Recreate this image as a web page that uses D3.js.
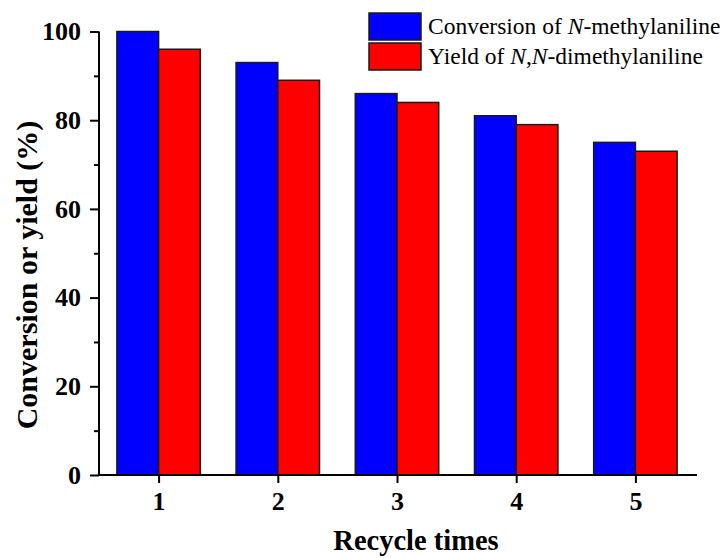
<!DOCTYPE html>
<html>
<head>
<meta charset="utf-8">
<script src="https://cdn.jsdelivr.net/npm/d3@7"></script>
<style>
	body { margin: 0; background: #fff; }
	svg { font-family: "Liberation Serif", "Times New Roman", serif; }
</style>
</head>
<body>
<svg id="chart" width="725" height="558"></svg>
<script>
(function (d3) {
	"use strict";

	/***** Data *****/
	var cycles = [1, 2, 3, 4, 5];
	var conversion = [100, 93, 86, 81, 75];
	var yieldVals = [96, 89, 84, 79, 73];
	var yTicks = [0, 20, 40, 60, 80, 100];
	var yMinorTicks = [10, 30, 50, 70, 90];

	/***** Layout *****/
	var svg = d3.select("#chart");
	var x = d3.scaleLinear().domain([0.5, 5.5]).range([99, 695]);
	var y = d3.scaleLinear().domain([0, 100]).range([475, 31.5]);
	var barW = x(0.35) - x(0);

	var series = [
		{ name: "conversion", values: conversion, color: "#0000ff", offset: -1 },
		{ name: "yield", values: yieldVals, color: "#ff0000", offset: 0 }
	];

	// Bars
	series.forEach(function (s) {
		svg.append("g").selectAll("rect")
			.data(cycles)
			.enter().append("rect")
			.attr("x", function (d) { return x(d) + s.offset * barW; })
			.attr("y", function (d, i) { return y(s.values[i]); })
			.attr("width", barW)
			.attr("height", function (d, i) { return y(0) - y(s.values[i]); })
			.attr("fill", s.color)
			.attr("stroke", "#1a1a1a")
			.attr("stroke-width", 1.5);
	});

	// Y axis
	var yAxis = svg.append("g").attr("transform", "translate(" + x(0.5) + ",0)")
		.call(d3.axisLeft(y).tickValues(yTicks).tickSize(9).tickPadding(9));
	svg.append("g").attr("transform", "translate(" + x(0.5) + ",0)")
		.call(d3.axisLeft(y).tickValues(yMinorTicks).tickSize(5).tickFormat(""))
		.select(".domain").remove();

	// X axis
	var xAxis = svg.append("g").attr("transform", "translate(0," + y(0) + ")")
		.call(d3.axisBottom(x).tickValues(cycles).tickSize(8).tickPadding(9).tickFormat(d3.format("d")));

	svg.selectAll(".domain").attr("stroke", "#000").attr("stroke-width", 2);
	svg.selectAll(".tick line").attr("stroke", "#000").attr("stroke-width", 2);
	svg.selectAll(".tick text")
		.attr("fill", "#000")
		.style("font-family", "Liberation Serif, serif")
		.style("font-weight", "bold")
		.style("font-size", "26px");
	xAxis.select(".domain").attr("d", "M" + x(0.5) + ",0H" + (x(5.5) + 2));
	yAxis.select(".domain").attr("d", "M0," + y(0) + "V" + y(100));

	// Axis titles
	svg.append("text")
		.attr("transform", "translate(37,275) rotate(-90)")
		.attr("text-anchor", "middle")
		.style("font-weight", "bold")
		.style("font-size", "30px")
		.text("Conversion or yield (%)");

	svg.append("text")
		.attr("x", 416)
		.attr("y", 550)
		.attr("text-anchor", "middle")
		.style("font-weight", "bold")
		.style("font-size", "28.5px")
		.text("Recycle times");

	/***** Legend *****/
	var legend = svg.append("g").attr("transform", "translate(369,13)");
	var legendRows = [
		{ color: "#0000ff", parts: [["Conversion of ", false], ["N", true], ["-methylaniline", false]] },
		{ color: "#ff0000", parts: [["Yield of ", false], ["N", true], [",", false], ["N", true], ["-dimethylaniline", false]] }
	];
	legendRows.forEach(function (row, i) {
		var g = legend.append("g").attr("transform", "translate(0," + (i * 30) + ")");
		g.append("rect")
			.attr("width", 52).attr("height", 27)
			.attr("fill", row.color)
			.attr("stroke", "#1a1a1a").attr("stroke-width", 1.5);
		var t = g.append("text")
			.attr("x", 59).attr("y", 21)
			.style("font-size", "23.5px");
		row.parts.forEach(function (p) {
			t.append("tspan").text(p[0]).style("font-style", p[1] ? "italic" : "normal");
		});
	});

})(d3);
</script>
</body>
</html>
